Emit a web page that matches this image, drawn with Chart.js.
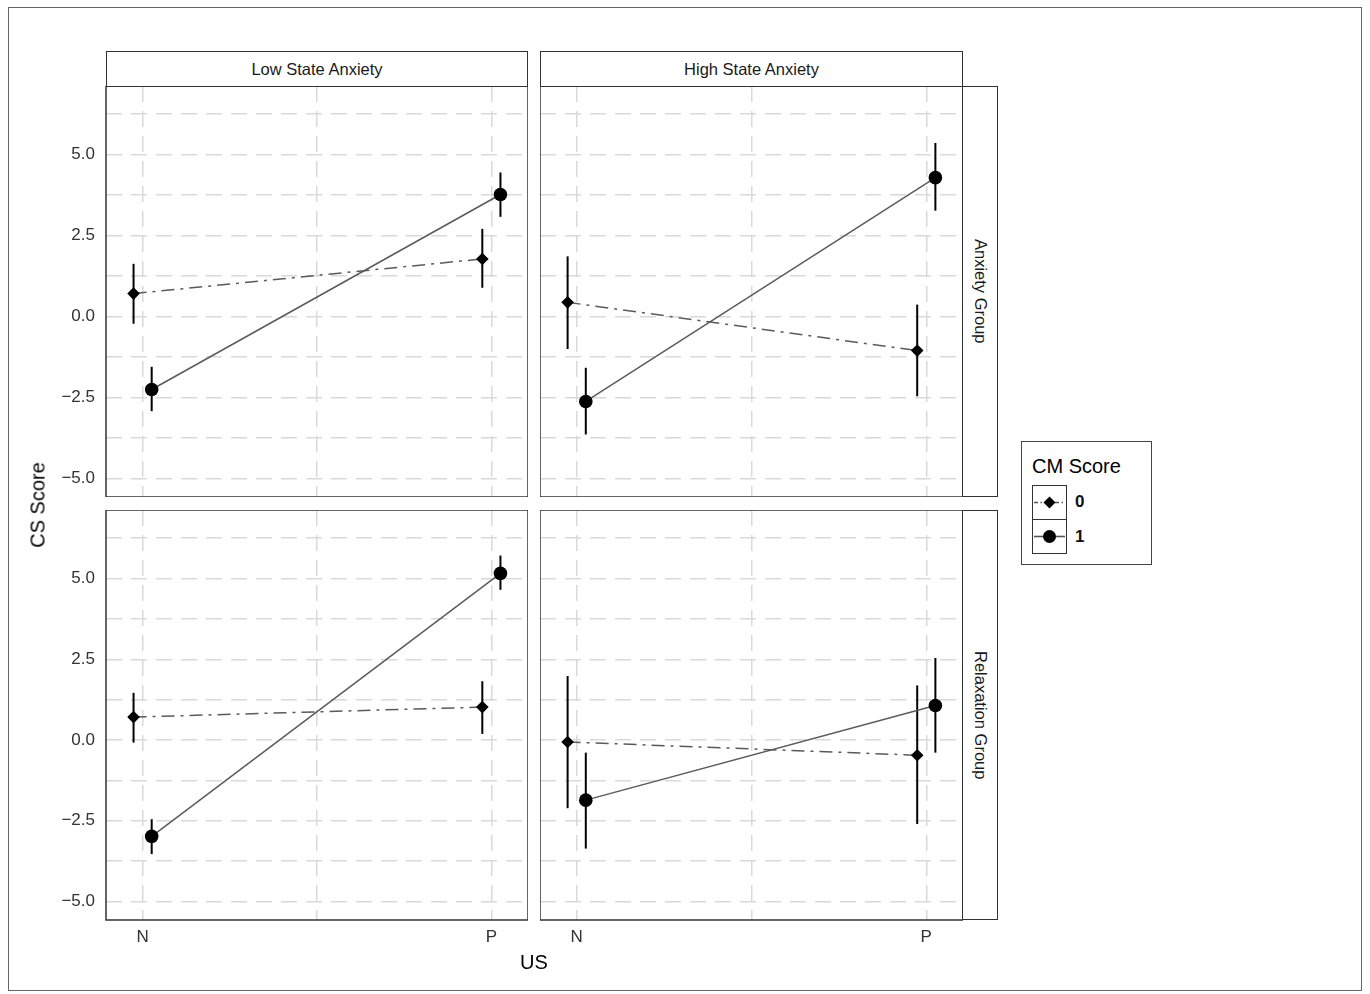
<!DOCTYPE html>
<html>
<head>
<meta charset="utf-8">
<script src="https://cdn.jsdelivr.net/npm/chart.js@4.4.1/dist/chart.umd.min.js"></script>
<style>
  body { margin: 0; background: #fff; font-family: "Liberation Sans", Arial, sans-serif; }
  #page { position: relative; width: 1370px; height: 994px; overflow: hidden; background: #fff; }
  .abs { position: absolute; }
  .frame { left: 8px; top: 7px; width: 1354px; height: 984px; border: 1.5px solid #666; box-sizing: border-box; }
  .strip { border: 1.5px solid #333; box-sizing: border-box; background: #fff; display: flex; align-items: center; justify-content: center; font-size: 16.5px; color: #1a1a1a; }
  .vstrip { writing-mode: vertical-rl; }
  canvas { position: absolute; }
  .title { font-size: 20px; color: #000; white-space: nowrap; }
  .legend { left: 1021px; top: 441px; width: 131px; height: 124px; border: 1.2px solid #444; box-sizing: border-box; }
  .lkey { border: 1.2px solid #333; box-sizing: border-box; width: 35px; height: 35px; }
  .llab { font-size: 17px; font-weight: bold; color: #111; }
</style>
</head>
<body>
<div id="page">
  <div class="abs frame"></div>

  <canvas id="c_tl" width="512" height="411" style="left:16px;top:86px"></canvas>
  <canvas id="c_tr" width="423" height="411" style="left:540px;top:86px"></canvas>
  <canvas id="c_bl" width="512" height="445" style="left:16px;top:510px"></canvas>
  <canvas id="c_br" width="423" height="445" style="left:540px;top:510px"></canvas>

  <div class="abs strip" id="s_col0" style="left:106px;top:51px;width:422px;height:36px"></div>
  <div class="abs strip" id="s_col1" style="left:540px;top:51px;width:423px;height:36px"></div>
  <div class="abs strip vstrip" id="s_row0" style="left:962px;top:86px;width:36px;height:411px"></div>
  <div class="abs strip vstrip" id="s_row1" style="left:962px;top:510px;width:36px;height:410px"></div>

  <div class="abs title" id="ytitle" style="left:38px;top:505px;transform:translate(-50%,-50%) rotate(-90deg)"></div>
  <div class="abs title" id="xtitle" style="left:534px;top:962px;transform:translate(-50%,-50%)"></div>

  <div class="abs legend"></div>
  <div class="abs title" id="ltitle" style="left:1032px;top:454px;line-height:24px"></div>
  <div class="abs lkey" style="left:1032px;top:485px">
    <svg width="33" height="33" viewBox="0 0 33 33">
      <line x1="1" y1="16.5" x2="32" y2="16.5" stroke="#555" stroke-width="1.4" stroke-dasharray="4,2.5,1.5,2.5"/>
      <polygon points="16.5,10.5 22.5,16.5 16.5,22.5 10.5,16.5" fill="#000"/>
    </svg>
  </div>
  <div class="abs lkey" style="left:1032px;top:519px">
    <svg width="33" height="33" viewBox="0 0 33 33">
      <line x1="1" y1="16.5" x2="32" y2="16.5" stroke="#555" stroke-width="1.6"/>
      <circle cx="16.5" cy="16.5" r="6.5" fill="#000"/>
    </svg>
  </div>
  <div class="abs llab" id="lab0" style="left:1075px;top:492px;line-height:20px"></div>
  <div class="abs llab" id="lab1" style="left:1075px;top:527px;line-height:20px"></div>
</div>

<script>
// ---------- labels ----------
const colLabels = ['Low State Anxiety', 'High State Anxiety'];
const rowLabels = ['Anxiety Group', 'Relaxation Group'];
const xAxisTitle = 'US';
const yAxisTitle = 'CS Score';
const legendTitle = 'CM Score';
const cmLevels = ['0', '1'];

// ---------- categories / ticks ----------
const usLevels = ['N', 'P'];
const usX = [0, 1];
const xGridValues = [0, 0.5, 1];
const xTickLabels = ['N', '', 'P'];
const yGridValues = [-5, -3.75, -2.5, -1.25, 0, 1.25, 2.5, 3.75, 5, 6.25];
const yTickLabels = ['\u22125.0', '', '\u22122.5', '', '0.0', '', '2.5', '', '5.0', ''];

// ---------- values: panels in order [LowAnx/Anxiety, HighAnx/Anxiety, LowAnx/Relax, HighAnx/Relax], each [N, P] ----------
const cm0Mean  = [[0.71, 1.78], [0.44, -1.05], [0.71, 1.02], [-0.06, -0.47]];
const cm0Lower = [[-0.22, 0.89], [-1.00, -2.46], [-0.08, 0.19], [-2.11, -2.60]];
const cm0Upper = [[1.63, 2.71], [1.86, 0.37], [1.46, 1.82], [1.98, 1.69]];
const cm1Mean  = [[-2.25, 3.77], [-2.62, 4.29], [-2.98, 5.16], [-1.86, 1.07]];
const cm1Lower = [[-2.92, 3.08], [-3.64, 3.27], [-3.53, 4.65], [-3.36, -0.39]];
const cm1Upper = [[-1.55, 4.45], [-1.58, 5.36], [-2.45, 5.71], [-0.39, 2.54]];

// ---------- text ----------
document.getElementById('s_col0').textContent = colLabels[0];
document.getElementById('s_col1').textContent = colLabels[1];
document.getElementById('s_row0').textContent = rowLabels[0];
document.getElementById('s_row1').textContent = rowLabels[1];
document.getElementById('xtitle').textContent = xAxisTitle;
document.getElementById('ytitle').textContent = yAxisTitle;
document.getElementById('ltitle').textContent = legendTitle;
document.getElementById('lab0').textContent = cmLevels[0];
document.getElementById('lab1').textContent = cmLevels[1];

// ---------- chart construction ----------
const DODGE = 0.026;
const FONT = '"Liberation Sans", Arial, sans-serif';
const GRID_COLOR = '#d9d9d9';
const GRID_DASH = [16, 9];

const panelBorder = {
  id: 'panelBorder',
  afterDraw(chart) {
    const a = chart.chartArea, ctx = chart.ctx;
    ctx.save();
    ctx.strokeStyle = '#333';
    ctx.lineWidth = 1.5;
    ctx.setLineDash([]);
    ctx.strokeRect(a.left, a.top, a.right - a.left, a.bottom - a.top);
    ctx.restore();
  }
};

function zeroPad(s) {
  s.paddingTop = 0; s.paddingBottom = 0; s.paddingLeft = 0; s.paddingRight = 0;
}

function errorBar(x, lo, hi) {
  return {
    data: [{ x: x, y: lo }, { x: x, y: hi }],
    showLine: true, borderColor: '#000', borderWidth: 2,
    pointRadius: 0, order: 5
  };
}

function makePanel(id, p, showY, showX) {
  const datasets = [
    {
      label: cmLevels[0],
      data: usX.map((x, i) => ({ x: x - DODGE, y: cm0Mean[p][i] })),
      showLine: true, borderColor: '#5a5a5a', borderWidth: 1.5,
      borderDash: [13, 6, 3, 6],
      pointStyle: 'rectRot', pointRadius: 6.3, pointBackgroundColor: '#000',
      pointBorderColor: '#000', pointBorderWidth: 0, order: 1
    },
    {
      label: cmLevels[1],
      data: usX.map((x, i) => ({ x: x + DODGE, y: cm1Mean[p][i] })),
      showLine: true, borderColor: '#5a5a5a', borderWidth: 1.5,
      pointStyle: 'circle', pointRadius: 6.8, pointBackgroundColor: '#000',
      pointBorderColor: '#000', pointBorderWidth: 0, order: 0
    }
  ];
  usX.forEach((x, i) => {
    datasets.push(errorBar(x - DODGE, cm0Lower[p][i], cm0Upper[p][i]));
    datasets.push(errorBar(x + DODGE, cm1Lower[p][i], cm1Upper[p][i]));
  });

  new Chart(document.getElementById(id), {
    type: 'scatter',
    data: { datasets },
    options: {
      responsive: false, animation: false, devicePixelRatio: 1,
      layout: { padding: 0, autoPadding: false },
      plugins: { legend: { display: false }, tooltip: { enabled: false } },
      scales: {
        x: {
          type: 'linear', min: -0.105, max: 1.105,
          afterBuildTicks: s => { s.ticks = xGridValues.map(v => ({ value: v })); },
          afterFit: s => { s.height = showX ? 35 : 0; zeroPad(s); },
          grid: { color: GRID_COLOR, lineWidth: 1.5, drawTicks: false },
          border: { display: false, dash: GRID_DASH },
          ticks: {
            display: showX, autoSkip: false, maxRotation: 0, padding: 7,
            color: '#333', font: { family: FONT, size: 17 },
            callback: (v, i) => xTickLabels[i]
          }
        },
        y: {
          type: 'linear', min: -5.57, max: 7.12,
          afterBuildTicks: s => { s.ticks = yGridValues.map(v => ({ value: v })); },
          afterFit: s => { s.width = showY ? 90 : 0; zeroPad(s); },
          grid: { color: GRID_COLOR, lineWidth: 1.5, drawTicks: false },
          border: { display: false, dash: GRID_DASH },
          ticks: {
            display: showY, autoSkip: false, padding: 11,
            color: '#333', font: { family: FONT, size: 17 },
            callback: (v, i) => yTickLabels[i]
          }
        }
      }
    },
    plugins: [panelBorder]
  });
}

makePanel('c_tl', 0, true, false);
makePanel('c_tr', 1, false, false);
makePanel('c_bl', 2, true, true);
makePanel('c_br', 3, false, true);
</script>
</body>
</html>
